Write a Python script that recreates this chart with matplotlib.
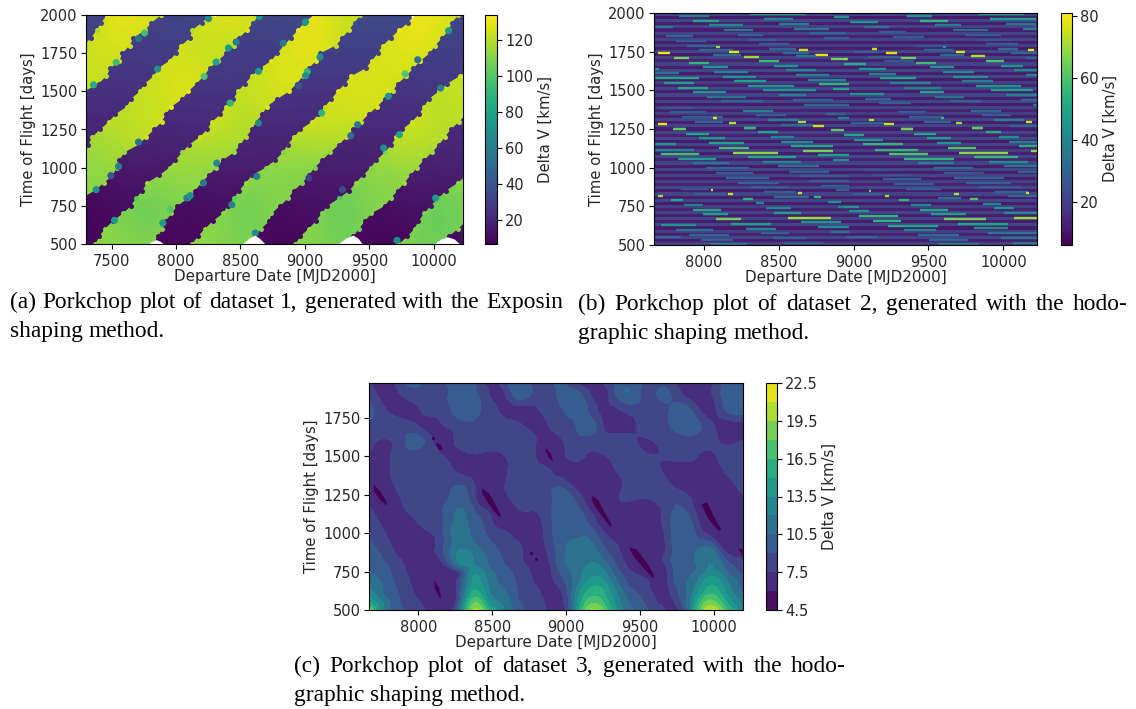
import numpy as np
import matplotlib
matplotlib.use('Agg')
import matplotlib.pyplot as plt
import matplotlib.tri as mtri
from matplotlib.cm import ScalarMappable
from matplotlib.colors import Normalize
from matplotlib.patches import PathPatch
from matplotlib.path import Path

W, H = 1136, 709
TEXT = '#262626'

# ---- dataset 1: band edges, departure date per time of flight row
edge_tof = list(range(500, 2001, 50))
band1_left = [7000] * 25 + [7230, 7285, 7340, 7385, 7420, 7465]
band1_right = [7000] * 19 + [7180, 7290, 7400, 7460, 7490, 7560, 7585, 7640, 7670, 7760, 7810, 7885]
band2_left = [7000] * 12 + [7250, 7320, 7350, 7410, 7480, 7530, 7620, 7650, 7720, 7755, 7830, 7860, 7950, 8000, 8040, 8110, 8125, 8200, 8265]
band2_right = [7000] * 5 + [7150, 7270, 7370, 7440, 7510, 7540, 7560, 7600, 7710, 7770, 7830, 7890, 7920, 7965, 8050, 8095, 8160, 8215, 8260, 8325, 8390, 8450, 8490, 8550, 8600, 8645]
band3_left = [7375, 7405, 7450, 7510, 7590, 7650, 7690, 7740, 7775, 7870, 7950, 7995, 8050, 8100, 8185, 8240, 8280, 8345, 8390, 8445, 8480, 8535, 8590, 8650, 8740, 8785, 8840, 8890, 8945, 8995, 9070]
band3_right = [7820, 7860, 7895, 7920, 7965, 8010, 8095, 8150, 8195, 8255, 8310, 8365, 8450, 8500, 8540, 8590, 8620, 8670, 8705, 8785, 8880, 8935, 8985, 9030, 9085, 9120, 9240, 9290, 9340, 9385, 9430]
band4_left = [8125, 8170, 8225, 8285, 8365, 8400, 8450, 8490, 8540, 8590, 8695, 8770, 8830, 8865, 8915, 8965, 9055, 9105, 9155, 9205, 9255, 9310, 9360, 9470, 9520, 9565, 9605, 9665, 9730, 9800, 9850]
band4_right = [8590, 8610, 8660, 8725, 8740, 8810, 8870, 8915, 8980, 9030, 9075, 9135, 9195, 9265, 9320, 9375, 9435, 9495, 9560, 9620, 9680, 9720, 9785, 9840, 9895, 9970, 10010, 10065, 10115, 10140, 10190]
band5_left = [8925, 8965, 9030, 9085, 9130, 9175, 9265, 9345, 9395, 9450, 9510, 9555, 9620, 9670, 9710, 9755, 9830, 9885, 9925, 9960, 10040, 10105, 10200, 10290, 10350] + [10400] * 6
band5_right = [9340, 9375, 9420, 9465, 9515, 9620, 9665, 9720, 9770, 9820, 9870, 9925, 9985, 10040, 10085, 10130, 10195, 10250, 10300] + [10400] * 12
band6_left = [9730, 9795, 9850, 9880, 9925, 9975, 10035, 10095, 10185, 10250, 10300] + [10400] * 20
band6_right = [10080, 10115, 10190, 10250, 10320] + [10400] * 26
bands = [(band1_left, band1_right), (band2_left, band2_right), (band3_left, band3_right),
         (band4_left, band4_right), (band5_left, band5_right), (band6_left, band6_right)]

# coarse delta v inside the high and the low bands
field_dates = [7300, 7550, 7800, 8050, 8300, 8550, 8800, 9050, 9300, 9550, 9800, 10050, 10300]
field_tof = [500, 750, 1000, 1250, 1500, 1750, 2000]
high_dv = [
    [112, 112, 110, 112, 112, 108, 110, 112, 106, 112, 110, 105, 110],
    [112, 108, 102, 110, 112, 103, 112, 110, 101, 112, 108, 101, 110],
    [112, 114, 116, 114, 112, 115, 110, 108, 114, 110, 116, 114, 112],
    [116, 122, 125, 120, 125, 118, 122, 126, 122, 122, 126, 122, 120],
    [122, 120, 122, 130, 124, 122, 128, 122, 128, 128, 122, 120, 126],
    [126, 126, 124, 126, 122, 120, 128, 130, 122, 126, 130, 124, 118],
    [118, 132, 126, 120, 128, 128, 120, 132, 124, 118, 132, 130, 122],
]
low_dv = [
    [9, 9, 10, 9, 9, 10, 8, 9, 10, 8, 9, 10, 11],
    [8, 10, 11, 10, 11, 12, 10, 12, 12, 10, 12, 13, 13],
    [14, 15, 16, 16, 16, 17, 16, 16, 17, 17, 18, 18, 18],
    [20, 20, 20, 21, 21, 20, 21, 21, 20, 21, 21, 22, 23],
    [24, 24, 25, 25, 26, 25, 26, 25, 26, 26, 26, 27, 27],
    [28, 28, 28, 30, 30, 29, 30, 30, 30, 30, 30, 30, 30],
    [35, 32, 32, 34, 34, 33, 34, 36, 36, 36, 36, 34, 34],
]

# isolated points along the band edges
spot_date = [7380, 7523, 7360, 7536, 7857, 7710, 7756, 8252, 8407, 8466, 8311, 8218, 8640, 8420, 8640, 8647,
             7709, 7495, 7554, 8084, 8110, 7955, 7898, 8614, 8316, 8213, 8433, 8627,
             9005, 9117, 9018, 9005, 8953, 8831, 9130, 9408, 9356, 9647, 9776, 9875, 10114, 10052, 9732, 9610, 9291, 10013, 9714, 9031]
spot_tof = [856, 655, 1543, 1690, 1646, 1845, 1882, 1976, 1784, 1823, 1692, 1598, 1631, 1423, 1292, 1990,
            1168, 948, 1008, 801, 817, 725, 637, 572, 1030, 900, 757, 943,
            1954, 1725, 1629, 1602, 1537, 1816, 1358, 1281, 1209, 1467, 1615, 1707, 1897, 1522, 1216, 1129, 856, 801, 524, 932]
spot_dv = [70, 75, 85, 95, 70, 55, 95, 70, 75, 60, 80, 100, 75, 90, 65, 75,
           55, 40, 60, 60, 70, 100, 75, 65, 65, 55, 60, 60,
           75, 70, 90, 70, 40, 60, 90, 55, 50, 70, 100, 55, 75, 60, 80, 70, 35, 75, 70, 30]

# regions with no solutions
gap1_date, gap1_tof = [7790, 7820, 7846, 7880, 7905], [500, 515, 526, 515, 500]
gap2_date, gap2_tof = [8523, 8570, 8614, 8650, 8691], [500, 535, 555, 535, 500]
gap3_date, gap3_tof = [9265, 9320, 9376, 9415, 9447], [500, 535, 555, 535, 500]
gap4_date, gap4_tof = [10010, 10060, 10109, 10160, 10200], [500, 530, 544, 530, 500]
gap5_date, gap5_tof = [8285, 8304, 8325], [2000, 1985, 2000]
gap6_date, gap6_tof = [9820, 9836, 9850], [2000, 1974, 2000]
gaps = [(gap1_date, gap1_tof), (gap2_date, gap2_tof), (gap3_date, gap3_tof),
        (gap4_date, gap4_tof), (gap5_date, gap5_tof), (gap6_date, gap6_tof)]

# ---- dataset 2: background per flight time row, then the visible streaks
row_edges = list(range(500, 2001, 20))
row_dv = [21, 12, 22, 13, 20, 11, 22, 12, 21, 12, 21, 13, 20, 11, 22, 12, 21, 12, 22, 13, 20, 12, 21, 12, 22,
          11, 21, 13, 22, 12, 20, 12, 21, 11, 22, 13, 21, 12, 21, 12, 22, 12, 20, 13, 21, 11, 22, 12, 21, 12,
          22, 13, 20, 11, 21, 12, 22, 12, 21, 13, 21, 11, 22, 12, 20, 12, 22, 13, 21, 12, 21, 12, 22, 11, 21]

streak_start = [8312, 7834, 8872, 8405, 7927, 8505, 8038, 7671, 8605, 8138, 8706, 8227, 7749, 8806, 8305, 7816, 8372, 7887, 8083, 8439, 7972, 8639, 7694, 8172, 8528, 8061, 8743, 7805, 8272, 8617, 8850, 7905, 8372, 7994, 8472, 7671, 8072, 8550, 7671, 8617, 8132, 7671, 8694, 8205, 7738, 8772, 8294, 7827, 8861, 8394, 7927, 8505, 8021, 8594, 8116, 8672, 7705, 8261, 7776, 8817, 8350, 7854, 8061, 8895, 8427, 8628, 7945, 8172, 7694, 8516, 8267, 8732, 7794,
                9833, 9355, 9913, 9446, 8979, 9544, 10018, 9072, 10129, 9662, 9173, 9751, 9266, 9829, 9884, 9417, 9595, 9121, 9962, 9473, 9684, 9217, 9006, 10051, 9577, 10162, 9784, 9095, 9317, 8939, 10151, 9884, 9206, 9417, 8939, 9984, 9513, 9039, 10073, 9595, 9106, 10151, 9662, 9179, 9722, 9246, 9817, 9339, 9918, 9446, 8977, 10018, 9544, 9077, 10118, 9646, 9173, 10196, 9784, 9295, 9855, 9373, 9584, 9106, 9940, 9468, 9684, 9206, 8983, 10151, 10040, 9789, 9317,
                7798, 8272, 7883, 8361, 8850, 8450, 7967, 8516, 8038, 7671, 8583, 8105, 7671, 8661, 8194, 7716, 8761, 8294, 7827, 8861, 8394, 7927, 8494, 8016, 8572, 8083, 8639, 8150, 8706, 8227, 8783, 8316, 7849, 8883, 8049, 8405, 8632, 7938, 8165, 7694, 8472, 8739, 8261, 7783, 8828, 8350, 7872, 8895, 8416, 7927, 8472, 7994, 8561, 8083, 8650, 8183, 7716, 8761, 8283, 7816, 8850, 8383, 7905, 7671, 8461, 7983, 8539, 8049,
                9317, 9795, 9406, 9884, 8939, 9491, 9973, 9006, 9557, 10040, 9061, 10107, 9628, 9144, 9706, 9239, 10184, 9806, 9335, 9906, 9433, 10002, 9535, 9061, 10095, 9606, 9128, 9673, 9195, 9751, 9268, 9840, 9350, 9940, 9104, 10151, 9673, 8995, 9210, 10029, 9562, 9780, 9306, 9862, 9384, 8939, 9940, 9446, 8972, 10006, 9517, 9039, 10073, 9606, 9128, 9695, 9228, 9806, 9335, 9895, 9428, 8950, 9984, 9506, 10062, 9573,
                8880]
streak_end = [8683, 8038, 8972, 8594, 8105, 8706, 8261, 7794, 8839, 8327, 8950, 8394, 7927, 8972, 8483, 8016, 8572, 8083, 8110, 8617, 8194, 8694, 7776, 8234, 8706, 8250, 8828, 7905, 8367, 8750, 8961, 8038, 8501, 8163, 8628, 7705, 8294, 8750, 7838, 8839, 8350, 7972, 8950, 8416, 7938, 8972, 8605, 8027, 8972, 8750, 8150, 8683, 8283, 8861, 8394, 8972, 7927, 8461, 8016, 8950, 8550, 8127, 8089, 8972, 8639, 8683, 8127, 8216, 7754, 8728, 8345, 8806, 7883,
              10140, 9522, 10218, 9628, 9161, 9717, 10218, 9239, 10224, 9895, 9350, 9984, 9473, 10051, 10095, 9606, 9617, 9157, 10095, 9673, 9744, 9288, 9173, 10224, 9740, 10207, 9878, 9317, 9417, 8957, 10224, 10006, 9406, 9551, 9084, 10133, 9673, 9217, 10224, 9806, 9284, 10224, 9895, 9417, 9929, 9517, 10118, 9584, 10196, 9606, 9206, 10224, 9740, 9250, 10224, 9851, 9384, 10224, 9984, 9484, 10051, 9595, 9602, 9139, 10140, 9651, 9722, 9268, 9206, 10189, 10224, 9855, 9395,
              7883, 8350, 8038, 8494, 8939, 8605, 8145, 8728, 8272, 7816, 8861, 8305, 7938, 8861, 8494, 7972, 8972, 8617, 8083, 8972, 8650, 8172, 8772, 8305, 8839, 8327, 8972, 8439, 8972, 8505, 8972, 8572, 8038, 8972, 8065, 8617, 8657, 8150, 8194, 7731, 8706, 8783, 8327, 7860, 8917, 8405, 7994, 8972, 8583, 8116, 8650, 8161, 8850, 8250, 8917, 8450, 7949, 8972, 8483, 8061, 8972, 8572, 8172, 7849, 8683, 8194, 8795, 8283,
              9395, 9862, 9551, 9984, 9072, 9651, 10107, 9195, 9717, 10224, 9328, 10224, 9817, 9428, 10029, 9495, 10224, 10095, 9673, 10162, 9673, 10224, 9795, 9228, 10224, 9873, 9384, 10006, 9451, 10051, 9539, 10118, 9584, 10162, 9117, 10173, 9706, 9184, 9239, 10224, 9717, 9833, 9373, 9984, 9517, 9039, 10073, 9628, 9106, 10224, 9751, 9295, 10224, 9884, 9317, 10029, 9562, 10029, 9551, 10224, 9706, 9161, 10224, 9762, 10224, 9829,
              9130]
streak_tof = [1993, 1980, 1974, 1961, 1950, 1929, 1922, 1912, 1899, 1888, 1871, 1860, 1849, 1839, 1828, 1817, 1798, 1787, 1780, 1770, 1759, 1761, 1740, 1750, 1740, 1729, 1731, 1710, 1718, 1722, 1701, 1679, 1690, 1649, 1660, 1641, 1619, 1630, 1611, 1600, 1589, 1578, 1568, 1559, 1548, 1540, 1529, 1518, 1510, 1499, 1488, 1469, 1458, 1439, 1428, 1406, 1387, 1368, 1357, 1346, 1338, 1327, 1318, 1318, 1308, 1297, 1297, 1288, 1280, 1277, 1258, 1269, 1249,
              1993, 1980, 1959, 1950, 1940, 1920, 1929, 1910, 1899, 1888, 1877, 1858, 1847, 1828, 1798, 1787, 1780, 1770, 1770, 1759, 1750, 1740, 1750, 1740, 1729, 1761, 1720, 1716, 1710, 1701, 1710, 1690, 1690, 1679, 1671, 1660, 1649, 1641, 1630, 1619, 1608, 1600, 1589, 1578, 1559, 1550, 1529, 1518, 1499, 1488, 1477, 1469, 1458, 1447, 1439, 1428, 1417, 1406, 1368, 1357, 1338, 1327, 1318, 1308, 1308, 1297, 1288, 1280, 1288, 1297, 1269, 1258, 1249,
              1248, 1255, 1220, 1231, 1242, 1199, 1190, 1169, 1158, 1150, 1139, 1128, 1117, 1109, 1098, 1089, 1079, 1068, 1057, 1048, 1038, 1027, 1008, 997, 975, 965, 945, 935, 915, 904, 883, 874, 864, 853, 857, 842, 838, 831, 827, 816, 812, 808, 799, 788, 778, 769, 758, 747, 739, 728, 707, 698, 677, 666, 646, 636, 627, 616, 606, 595, 586, 575, 565, 554, 543, 535, 513, 505,
              1248, 1255, 1220, 1231, 1210, 1190, 1199, 1180, 1160, 1169, 1150, 1139, 1128, 1117, 1098, 1087, 1109, 1068, 1057, 1038, 1027, 1008, 997, 986, 975, 965, 954, 935, 924, 904, 894, 874, 864, 844, 848, 838, 827, 827, 818, 814, 801, 799, 788, 767, 758, 747, 739, 728, 717, 707, 698, 687, 677, 668, 657, 636, 625, 608, 597, 575, 565, 554, 545, 535, 515, 505,
              1997]
streak_dv = [48, 38, 45, 40, 50, 38, 42, 36, 36, 36, 32, 30, 30, 30, 28, 28, 28, 30, 70, 30, 30, 75, 78, 78, 32, 32, 78, 65, 70, 35, 65, 55, 58, 45, 45, 45, 40, 40, 35, 38, 45, 50, 40, 50, 48, 55, 45, 50, 50, 45, 45, 38, 35, 30, 32, 30, 25, 38, 28, 30, 28, 28, 78, 40, 38, 70, 30, 72, 78, 32, 70, 75, 48,
             48, 45, 48, 55, 45, 38, 35, 35, 38, 32, 28, 28, 28, 25, 28, 25, 50, 75, 32, 30, 78, 78, 28, 32, 32, 78, 72, 30, 65, 70, 30, 60, 25, 58, 52, 45, 45, 45, 42, 42, 38, 40, 45, 50, 38, 40, 45, 38, 48, 50, 45, 38, 35, 30, 32, 30, 28, 35, 32, 28, 28, 28, 55, 75, 38, 30, 70, 75, 28, 75, 30, 72, 60,
             62, 55, 50, 50, 62, 40, 45, 42, 50, 45, 50, 58, 40, 65, 68, 58, 48, 50, 48, 42, 40, 35, 32, 30, 28, 28, 28, 30, 28, 30, 28, 28, 25, 30, 75, 28, 75, 28, 75, 70, 30, 55, 55, 52, 45, 40, 38, 38, 42, 50, 48, 48, 70, 65, 45, 48, 45, 42, 40, 35, 35, 30, 30, 30, 30, 28, 28, 35,
             65, 62, 50, 52, 50, 48, 45, 45, 45, 38, 55, 52, 60, 55, 68, 60, 68, 55, 55, 42, 38, 35, 32, 25, 28, 25, 25, 30, 28, 30, 28, 28, 28, 30, 65, 75, 72, 28, 70, 30, 32, 60, 55, 40, 42, 45, 45, 50, 45, 42, 48, 55, 70, 65, 55, 50, 50, 42, 40, 35, 32, 30, 35, 30, 35, 35,
             6]

# ---- dataset 3: delta v on a date / flight time grid
c_dates = [7665, 7765, 7865, 7965, 8065, 8165, 8265, 8365, 8465, 8565, 8665, 8765, 8865, 8965,
           9065, 9165, 9265, 9365, 9465, 9565, 9665, 9765, 9865, 9965, 10065, 10165, 10200]
c_tof = [500, 550, 600, 650, 700, 750, 800, 900, 1000, 1100, 1200, 1300, 1400, 1500, 1600, 1700, 1800, 1900, 1978]
c_dv = [
    [19, 12, 9.5, 8.2, 7.4, 6.7, 10, 19.5, 17, 12.5, 10, 8.6, 7.6, 6.8, 13, 19.5, 17.5, 12.8, 10.4, 8.9, 7.7, 7.6, 14, 20.5, 18, 13.5, 12],
    [15.2, 11.8, 9.2, 8, 7.1, 6.2, 8.5, 17.5, 14.5, 11.8, 9.5, 8.3, 7.3, 6.9, 12.5, 17.5, 16, 12, 9.8, 8.4, 7, 8.3, 13.5, 18.5, 16, 12.5, 11.5],
    [13.3, 10.6, 9, 7.6, 6.9, 6.2, 8, 15.5, 13, 11, 9.2, 8, 7.1, 7.2, 12, 16, 15, 11.5, 9.3, 8, 6.9, 9, 12.5, 16.5, 14.5, 11.5, 10.8],
    [11.9, 10.4, 8.7, 7.4, 6.7, 6.2, 7.7, 14, 12.5, 10.5, 9, 7.8, 7, 7.8, 11.5, 14.8, 14.3, 10.5, 8.7, 7.5, 6.8, 9.4, 11.8, 15, 13.6, 10.6, 10],
    [11.2, 10, 8.4, 7.2, 6.6, 6.4, 7.6, 13.5, 12, 10.2, 8.8, 7.6, 6.9, 8.6, 11, 13.5, 13, 9.8, 8.2, 7.2, 6.8, 10, 11, 14, 12.5, 10.3, 9.8],
    [10.3, 9.7, 8.1, 7.1, 6.7, 6.8, 7.5, 12.8, 11.3, 9.9, 8.5, 7.4, 6.9, 9.2, 11, 12.8, 12, 9, 7.3, 6.2, 6.8, 10, 10.4, 12.3, 11.2, 9, 8.5],
    [9.9, 9.2, 7.9, 7, 6.9, 7.3, 11.5, 12.2, 10.6, 9.2, 8, 7.1, 6.9, 9.9, 11, 12.1, 10.9, 8.2, 6.8, 6.2, 7.4, 10, 10.2, 12, 10.2, 8.5, 8],
    [9.4, 8.4, 7, 6.8, 6.9, 8.9, 11.6, 11.4, 9.8, 8.7, 7.8, 7, 7.5, 9.9, 11.2, 11, 9, 7.4, 6.2, 6.7, 7.3, 10, 10, 11, 7.2, 6.2, 6.2],
    [9, 7.6, 7, 6.8, 7.3, 8.9, 11.2, 10.2, 8.9, 7.9, 7.1, 6.8, 7.9, 9.9, 10, 9.8, 7.4, 6.8, 6.8, 6.8, 7.5, 10.2, 9.3, 7.1, 6.2, 6.8, 6.8],
    [8.5, 6.9, 6.8, 7.5, 8.2, 8.9, 10.8, 9.8, 8.2, 6.2, 6.8, 6.9, 8.2, 9.9, 9.9, 8.2, 6.2, 6.8, 6.9, 6.9, 7.9, 9.9, 8.3, 6.2, 6.6, 6.9, 6.9],
    [7.3, 6.2, 7.2, 8.1, 8.2, 8.7, 10, 8.6, 6.2, 6.9, 7.7, 8.1, 8.3, 9.9, 9, 6.7, 6.3, 7.4, 7.2, 7.2, 8.2, 8.9, 7.3, 6.2, 6.8, 6.9, 6.9],
    [6.9, 6.6, 7.8, 8.3, 8.4, 8.4, 9.2, 8, 6.2, 7.2, 8, 8.3, 8.4, 9, 7.3, 6.9, 6.9, 7.3, 8.4, 8.5, 8.2, 7.2, 6.8, 6.8, 6.9, 7.6, 8],
    [6.9, 6.9, 8.2, 8.5, 8.5, 8.1, 7.4, 6.9, 6.8, 7.1, 8.2, 8.4, 8, 6.9, 6.9, 6.8, 6.9, 7.7, 8.3, 8.2, 7.4, 6.9, 6.8, 6.8, 7.4, 8.1, 8.2],
    [7.4, 6.9, 8.2, 8.4, 8.1, 7.6, 6.8, 7.3, 7, 7.3, 8.2, 8.1, 6.2, 6.9, 7.9, 7.1, 7.4, 8.1, 8, 7.6, 7.6, 7.8, 7.7, 7.2, 7.9, 8.2, 8.3],
    [8.2, 7.3, 8.2, 9.6, 8.3, 6.5, 7.9, 8.3, 8.4, 8.4, 8.3, 7.9, 6.6, 7.3, 8.3, 8.4, 8.4, 8.1, 7.6, 7.4, 8, 8.4, 8.4, 8, 7.3, 7.4, 7.6],
    [8.7, 8.4, 8.2, 7.9, 6.9, 7.4, 8.2, 8.6, 8.3, 8.1, 8, 7, 7.3, 8.3, 9, 9.8, 7.1, 6.9, 7.4, 8.3, 8.7, 9.6, 9.6, 8.1, 6.9, 6.9, 7],
    [9.7, 7.8, 6.9, 6.9, 8, 8.3, 9.7, 9.8, 8.3, 7.3, 6.9, 7, 8, 8.8, 9.8, 8.6, 6.9, 7.4, 8.1, 8.3, 8.6, 9.8, 8.6, 6.9, 8.6, 9.8, 9.8],
    [8.4, 7, 7.3, 8.2, 8.3, 8.5, 9.8, 9.4, 7.9, 6.8, 9.7, 8.9, 8.3, 9.4, 9.7, 7.6, 6.9, 9.8, 9.8, 8.5, 9.4, 8, 6.8, 6.9, 9.3, 9.8, 9.8],
    [7.8, 7, 8, 9.6, 8.2, 8.8, 9.8, 9.8, 7, 8.1, 9.8, 8.6, 8.3, 9.2, 7.5, 6.9, 7.9, 9.7, 9.8, 8.4, 8.3, 7, 6.9, 7, 9.4, 9.8, 9.8],
]
c_levels = [4.5, 6, 7.5, 9, 10.5, 12, 13.5, 15, 16.5, 18, 19.5, 21, 22.5]

# the narrow minima below 6 km/s
pit1_date, pit1_tof = [7694, 7739, 7784, 7784, 7739, 7700], [1317, 1273, 1208, 1180, 1219, 1273]
pit2_date, pit2_tof = [8431, 8477, 8522, 8556, 8556, 8511, 8465, 8431], [1291, 1262, 1187, 1122, 1100, 1143, 1208, 1262]
pit3_date, pit3_tof = [8109, 8141, 8154, 8136, 8109], [688, 645, 569, 591, 645]
pit4_date, pit4_tof = [8120, 8154, 8166, 8141, 8120], [1587, 1577, 1537, 1544, 1577]
pit5_date, pit5_tof = [8863, 8897, 8913, 8885, 8863], [1555, 1518, 1468, 1490, 1533]
pit6_date, pit6_tof = [9177, 9218, 9263, 9309, 9304, 9252, 9195, 9173], [1241, 1215, 1132, 1057, 1039, 1100, 1176, 1219]
pit7_date, pit7_tof = [9427, 9479, 9547, 9595, 9592, 9524, 9456], [909, 894, 808, 732, 704, 775, 851]
pit8_date, pit8_tof = [9917, 9956, 10001, 10051, 10035, 9967], [1187, 1202, 1111, 1028, 1013, 1089]
pit9_date, pit9_tof = [10167, 10201, 10201, 10183], [901, 894, 847, 873]
pits = [(pit1_date, pit1_tof), (pit2_date, pit2_tof), (pit3_date, pit3_tof), (pit4_date, pit4_tof), (pit5_date, pit5_tof),
        (pit6_date, pit6_tof), (pit7_date, pit7_tof), (pit8_date, pit8_tof), (pit9_date, pit9_tof)]
tiny_pit_date = [8760, 8795, 8102]
tiny_pit_tof = [873, 829, 1620]

plt.rcParams['font.family'] = 'DejaVu Sans'
plt.rcParams['text.color'] = TEXT
plt.rcParams['axes.labelcolor'] = TEXT
plt.rcParams['xtick.labelcolor'] = TEXT
plt.rcParams['ytick.labelcolor'] = TEXT
plt.rcParams['xtick.labelsize'] = 10.5
plt.rcParams['ytick.labelsize'] = 10.5
plt.rcParams['ytick.major.pad'] = 2.5

fig = plt.figure(figsize=(W / 100, H / 100), dpi=100)


def axes_px(left, top, right, bottom):
    return fig.add_axes([left / W, 1 - bottom / H, (right - left) / W, (bottom - top) / H])


def finish(ax, cax, mappable, cticks, ctick_labels=None):
    ax.set_xlabel('Departure Date [MJD2000]', labelpad=0, fontsize=10.9)
    ax.set_ylabel('Time of Flight [days]', labelpad=3, fontsize=10.7)
    cb = fig.colorbar(mappable, cax=cax)
    cb.set_ticks(cticks)
    if ctick_labels:
        cb.set_ticklabels(ctick_labels)
    cb.set_label('Delta V [km/s]', labelpad=3, fontsize=10.7)


def field_at(field, date, tof):
    i = np.abs(np.array(field_tof) - tof).argmin()
    j = np.abs(np.array(field_dates) - date).argmin()
    return field[i][j]


# panel a
ax = axes_px(86, 15, 463, 244)
norm_a = Normalize(6.5, 134)
x_step = (field_dates[1] - field_dates[0]) / 2
y_step = (field_tof[1] - field_tof[0]) / 2
field_extent = [field_dates[0] - x_step, field_dates[-1] + x_step, field_tof[0] - y_step, field_tof[-1] + y_step]
ax.imshow(low_dv, origin='lower', extent=field_extent, aspect='auto', cmap='viridis', norm=norm_a, interpolation='bicubic')
high = ax.imshow(high_dv, origin='lower', extent=field_extent, aspect='auto', cmap='viridis', norm=norm_a, interpolation='bicubic')
band_paths = []
for left, right in bands:
    verts = list(zip(left, edge_tof)) + list(zip(right[::-1], edge_tof[::-1]))
    band_paths.append(Path(verts + [verts[0]], closed=True))
high.set_clip_path(PathPatch(Path.make_compound_path(*band_paths), transform=ax.transData))
# round bumps along the edges, the solutions are dots in the source plot
for left, right in bands:
    for edge in (left, right):
        for k, (date, tof) in enumerate(zip(edge, edge_tof)):
            field = high_dv if k % 2 == 0 else low_dv
            ax.scatter(date, tof, c=[field_at(field, date, tof)], cmap='viridis', norm=norm_a, s=13, linewidths=0)
ax.scatter(spot_date, spot_tof, c=spot_dv, cmap='viridis', norm=norm_a, s=26, linewidths=0)
for gap_date, gap_tof in gaps:
    ax.fill(gap_date, gap_tof, color='white', linewidth=0)
ax.set_xlim(7302, 10226)
ax.set_ylim(500, 2000)
ax.set_xticks([7500, 8000, 8500, 9000, 9500, 10000])
ax.set_yticks([500, 750, 1000, 1250, 1500, 1750, 2000])
finish(ax, axes_px(485, 15, 497, 244), ScalarMappable(norm_a, 'viridis'), [20, 40, 60, 80, 100, 120])

# panel b
ax = axes_px(654, 13, 1037, 245)
norm_b = Normalize(6, 81)
ax.pcolormesh([7669, 10224], row_edges, np.array(row_dv).reshape(-1, 1), cmap='viridis', norm=norm_b)
ax.hlines(streak_tof, streak_start, streak_end, colors=plt.cm.viridis(norm_b(streak_dv)), linewidth=1.7)
ax.set_xlim(7669, 10224)
ax.set_ylim(500, 2000)
ax.set_xticks([8000, 8500, 9000, 9500, 10000])
ax.set_yticks([500, 750, 1000, 1250, 1500, 1750, 2000])
finish(ax, axes_px(1061, 13, 1072, 245), ScalarMappable(norm_b, 'viridis'), [20, 40, 60, 80])

# panel c, the library refines the read grid so the contours come out round
ax = axes_px(369, 383, 743, 610)
grid_x, grid_y = np.meshgrid(c_dates, c_tof)
triang = mtri.Triangulation(grid_x.ravel(), grid_y.ravel())
fine_tri, fine_dv = mtri.UniformTriRefiner(triang).refine_field(np.array(c_dv).ravel(), subdiv=3)
cs = ax.tricontourf(fine_tri, np.clip(fine_dv, 6.1, 22.4), levels=c_levels, cmap='viridis')
for pit_date, pit_tof in pits:
    ax.fill(pit_date, pit_tof, color=plt.cm.viridis(0.0), linewidth=0)
ax.scatter(tiny_pit_date, tiny_pit_tof, color=plt.cm.viridis(0.0), s=5, linewidths=0)
ax.set_xlim(7665, 10199)
ax.set_ylim(500, 1978)
ax.set_xticks([8000, 8500, 9000, 9500, 10000])
ax.set_yticks([500, 750, 1000, 1250, 1500, 1750])
finish(ax, axes_px(766, 383, 777, 610), cs, [4.5, 7.5, 10.5, 13.5, 16.5, 19.5, 22.5])

# captions, first lines are justified word by word
renderer = fig.canvas.get_renderer()


def caption(words, left, right, y, size=16.8):
    texts = [fig.text(0, 1 - y / H, w, family='Liberation Serif', fontsize=size, color='black', va='baseline') for w in words]
    widths = [t.get_window_extent(renderer).width for t in texts]
    if right is None:
        gap = size * 0.25 * 100 / 72
    else:
        gap = (right - left - sum(widths)) / (len(words) - 1)
    x = left
    for t, width in zip(texts, widths):
        t.set_x(x / W)
        x += width + gap


caption('(a) Porkchop plot of dataset 1, generated with the Exposin'.split(), 10, 563, 308)
caption('shaping method.'.split(), 10, None, 337)
caption('(b) Porkchop plot of dataset 2, generated with the hodo-'.split(), 578, 1128, 310)
caption('graphic shaping method.'.split(), 578, None, 339)
caption('(c) Porkchop plot of dataset 3, generated with the hodo-'.split(), 294, 846, 672)
caption('graphic shaping method.'.split(), 294, None, 701)

fig.savefig('out.png', dpi=100)
